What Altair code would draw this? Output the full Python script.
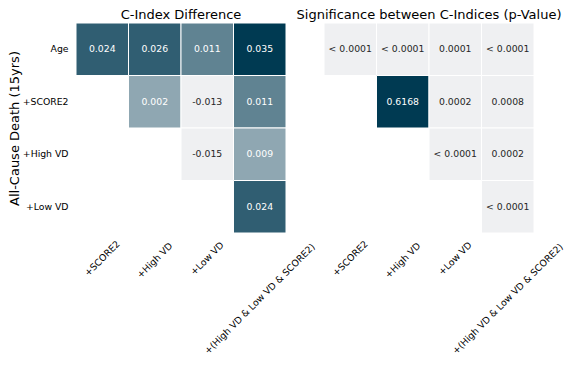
import altair as alt
import pandas as pd

rows = ["Age", "+SCORE2", "+High VD", "+Low VD"]
cols = ["+SCORE2", "+High VD", "+Low VD", "+(High VD & Low VD & SCORE2)"]

diff_age = [0.024, 0.026, 0.011, 0.035]
diff_score2 = [None, 0.002, -0.013, 0.011]
diff_highvd = [None, None, -0.015, 0.009]
diff_lowvd = [None, None, None, 0.024]

p_age = ["< 0.0001", "< 0.0001", "0.0001", "< 0.0001"]
p_score2 = [None, "0.6168", "0.0002", "0.0008"]
p_highvd = [None, None, "< 0.0001", "0.0002"]
p_lowvd = [None, None, None, "< 0.0001"]

diff_rows = [diff_age, diff_score2, diff_highvd, diff_lowvd]
p_rows = [p_age, p_score2, p_highvd, p_lowvd]

# colour palette: 6 steps from light grey to dark teal
light = (239, 240, 242)
dark = (0, 58, 82)
N = 6
palette = []
for k in range(N):
    t = k / (N - 1)
    c = tuple(round(light[i] + (dark[i] - light[i]) * t) for i in range(3))
    palette.append("#%02x%02x%02x" % c)

recs = []
for i, r in enumerate(rows):
    for j, c in enumerate(cols):
        v = diff_rows[i][j]
        p = p_rows[i][j]
        if v is None:
            continue
        pnum = float(p.replace("<", "").strip())
        recs.append({"row": r, "col": c, "diff": v, "diff_label": f"{v:.3f}",
                     "p": pnum, "p_label": p})
df = pd.DataFrame(recs)

d_dom = [float(df["diff"].min()), float(df["diff"].max())]
p_dom = [float(df["p"].min()), float(df["p"].max())]


def is_dark(v, dom):
    b = int((v - dom[0]) / (dom[1] - dom[0]) * N)
    b = min(b, N - 1)
    return 1 if b >= 2 else 0


df["dk_diff"] = [is_dark(v, d_dom) for v in df["diff"]]
df["dk_p"] = [is_dark(v, p_dom) for v in df["p"]]

FONT = "DejaVu Sans"

xaxis = alt.Axis(
    labelAngle=-45, labelAlign="center", labelBaseline="middle",
    labelPadding=alt.ExprRef(expr="8 + (length(datum.label) * 5.45 + 10) / 2.83"),
    ticks=False, domain=False, labelFontSize=9.3, labelFont=FONT,
    labelColor="#000000", labelOverlap=False, labelLimit=400, title=None,
)
yaxis = alt.Axis(
    ticks=False, domain=False, labelPadding=8, labelFontSize=9.3, labelFont=FONT,
    labelColor="#000000", title="All-Cause Death (15yrs)", titleFontSize=13,
    titleFont=FONT, titleFontWeight="normal", titleColor="#000000", titlePadding=1,
)


def heat(val, lab, dk, dom, show_y, title):
    base = alt.Chart(df).encode(
        x=alt.X("col:N", scale=alt.Scale(domain=cols, paddingInner=0, paddingOuter=0), axis=xaxis),
        y=alt.Y("row:N", scale=alt.Scale(domain=rows, paddingInner=0, paddingOuter=0),
                axis=yaxis if show_y else None),
    )
    rect = base.mark_rect(stroke="white", strokeWidth=1).encode(
        color=alt.Color(f"{val}:Q", scale=alt.Scale(type="quantize", domain=dom, range=palette,
                                                   nice=False, zero=False), legend=None)
    )
    text = base.mark_text(font=FONT, fontSize=9.3).encode(
        text=f"{lab}:N",
        color=alt.condition(f"datum.{dk} == 1", alt.value("white"), alt.value("#262626")),
    )
    return (rect + text).properties(
        width=210, height=210,
        title=alt.TitleParams(title, fontSize=13, font=FONT, fontWeight="normal",
                              color="#000000", anchor="middle", offset=1),
    )


left = heat("diff", "diff_label", "dk_diff", d_dom, True, "C-Index Difference")
right = heat("p", "p_label", "dk_p", p_dom, False, "Significance between C-Indices (p-Value)")

chart = alt.hconcat(left, right, spacing=38, bounds="flush").resolve_scale(
    color="independent"
).properties(
    padding={"left": 0, "top": 0, "right": 0, "bottom": 0}
).configure_view(stroke=None)

chart.save("out.html", embed_options={"renderer": "svg", "actions": False})
